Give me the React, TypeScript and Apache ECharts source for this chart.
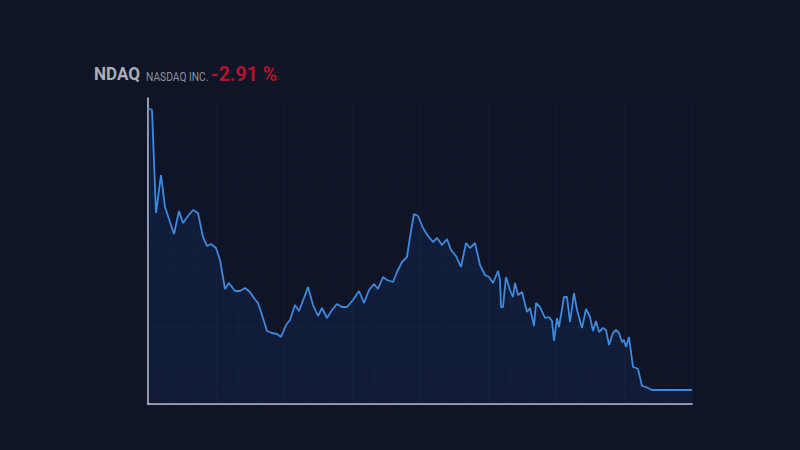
import React, { useEffect, useRef } from "react";
import * as echarts from "echarts";

// trading-session index (x) and index level (y)
const days: number[] = [
  0, 4, 8, 13, 17, 22, 26, 31, 35, 40,
  45, 50, 55, 59, 63, 68, 72, 77, 81, 87,
  92, 97, 102, 106, 110, 115, 119, 124, 129, 133,
  138, 142, 147, 151, 156, 160, 165, 170, 174, 179,
  184, 189, 194, 199, 205, 211, 216, 221, 226, 230,
  235, 239, 245, 249, 254, 259, 262, 266, 270, 275,
  280, 285, 289, 294, 299, 303, 308, 313, 318, 322,
  327, 332, 337, 341, 345, 350, 352, 353, 355, 358,
  362, 365, 367, 370, 374, 379, 382, 386, 388, 392,
  397, 401, 404, 406, 409, 411, 416, 419, 422, 426,
  429, 434, 438, 442, 445, 448, 451, 455, 458, 461,
  465, 468, 471, 474, 476, 478, 481, 485, 488, 490,
  494, 498, 504, 514, 524, 534, 544,
];

const prices: number[] = [
  296, 294, 191, 229, 197, 182, 170, 193, 181, 188,
  194, 191, 167, 158, 160, 156, 144, 115, 121, 113,
  113, 116, 112, 106, 101, 86, 73, 71, 70, 67,
  79, 84, 99, 93, 106, 117, 99, 88, 96, 86,
  94, 100, 97, 97, 104, 113, 101, 114, 120, 115,
  127, 124, 122, 132, 142, 147, 167, 190, 188, 176,
  168, 162, 166, 159, 165, 154, 148, 137, 161, 156,
  161, 139, 129, 127, 121, 133, 124, 97, 97, 127,
  114, 107, 121, 109, 112, 92, 96, 78, 101, 97,
  86, 87, 83, 63, 86, 77, 107, 107, 82, 111,
  94, 76, 95, 87, 73, 83, 72, 76, 74, 59,
  71, 74, 71, 62, 64, 57, 67, 37, 36, 35,
  18, 17, 14, 14, 14, 14, 14,
];

const ticker = "NDAQ";
const company = "NASDAQ INC.";
const change = "-2.91 %";

const X_MAX = 544;
const X_STEP = 544 / 24;
const Y_MAX = 306;
const Y_STEP = 306 / 16;

export default function App() {
  const ref = useRef<HTMLDivElement>(null);

  useEffect(() => {
    if (!ref.current) return;
    const chart = echarts.init(ref.current, undefined, { renderer: "svg" });
    const gridColor = "rgba(120,150,220,0.045)";
    chart.setOption({
      animation: false,
      backgroundColor: "#0f1426",
      grid: { left: 148, right: 108, top: 98, bottom: 46 },
      xAxis: {
        type: "value",
        min: 0,
        max: X_MAX,
        interval: X_STEP,
        axisLine: { show: true, lineStyle: { color: "#c9ccd6", width: 1.5 } },
        axisTick: { show: false },
        axisLabel: { show: false },
        splitLine: { show: true, lineStyle: { color: gridColor, width: 1 } },
      },
      yAxis: {
        type: "value",
        min: 0,
        max: Y_MAX,
        interval: Y_STEP,
        axisLine: { show: true, lineStyle: { color: "#c9ccd6", width: 1.5 } },
        axisTick: { show: false },
        axisLabel: { show: false },
        splitLine: { show: true, lineStyle: { color: gridColor, width: 1 } },
      },
      series: [
        {
          type: "line",
          data: days.map((d, i) => [d, prices[i]]),
          showSymbol: false,
          symbol: "none",
          lineStyle: { color: "#3b8ae0", width: 1.8 },
          areaStyle: {
            origin: "start",
            color: new echarts.graphic.LinearGradient(0, 0, 0, 1, [
              { offset: 0, color: "rgba(25,70,150,0.28)" },
              { offset: 1, color: "rgba(25,70,150,0.20)" },
            ]),
          },
        },
      ],
      graphic: [
        {
          type: "text",
          x: 94,
          y: 83,
          scaleX: 0.9,
          style: {
            text: ticker,
            fill: "#a9adba",
            font: "bold 19px Roboto",
            verticalAlign: "bottom",
          },
        },
        {
          type: "text",
          x: 146,
          y: 83,
          scaleX: 0.82,
          style: {
            text: company,
            fill: "#8e93a3",
            font: "12.5px Roboto",
            verticalAlign: "bottom",
          },
        },
        {
          type: "text",
          x: 211,
          y: 84,
          scaleX: 0.95,
          style: {
            text: change,
            fill: "#b3142a",
            font: "bold 20.5px Roboto",
            verticalAlign: "bottom",
          },
        },
      ],
    });
    return () => chart.dispose();
  }, []);

  return <div ref={ref} style={{ width: 800, height: 450, position: "fixed", left: 0, top: 0 }} />;
}
